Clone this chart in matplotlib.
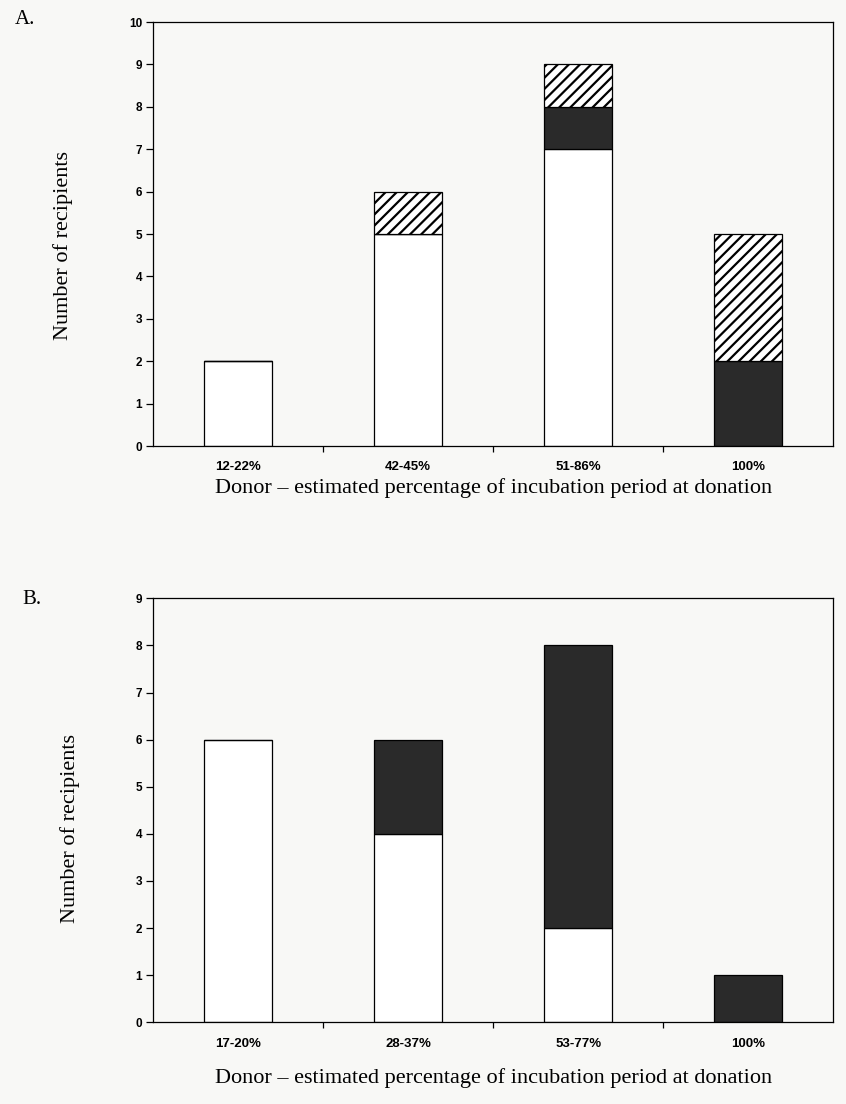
import numpy as np
import matplotlib.pyplot as plt
from matplotlib.ticker import FixedLocator

# ====== data ======
cats_a = ["12-22%", "42-45%", "51-86%", "100%"]
white_a = [2, 5, 7, 0]
dark_a = [0, 0, 1, 2]
hatch_a = [0, 1, 1, 3]

cats_b = ["17-20%", "28-37%", "53-77%", "100%"]
white_b = [6, 4, 2, 0]
dark_b = [0, 2, 6, 1]

xlabel = "Donor \u2013 estimated percentage of incubation period at donation"
ylabel = "Number of recipients"

plt.rcParams["hatch.linewidth"] = 1.6

fig = plt.figure(figsize=(8.46, 11.04), dpi=100)
fig.patch.set_facecolor("#f8f8f6")

serif = ["Liberation Serif", "DejaVu Serif"]
sans = ["Liberation Sans", "DejaVu Sans"]


def draw_panel(ax, cats, white, dark, hatch, ymax, ylab_xy, xlab_y):
    x = np.arange(len(cats))
    w = 0.4
    ax.bar(x, white, width=w, color="white", edgecolor="black", linewidth=0.9)
    ax.bar(x, dark, width=w, bottom=white, color="#2a2a2a",
           edgecolor="black", linewidth=0.9)
    if hatch is not None:
        base = np.array(white) + np.array(dark)
        ax.bar(x, hatch, width=w, bottom=base, color="white",
               edgecolor="black", hatch="///", linewidth=0.9)
    ax.set_xlim(-0.5, len(cats) - 0.5)
    ax.set_ylim(0, ymax)
    ax.set_yticks(range(ymax + 1))
    ax.set_xticks(x)
    ax.set_xticklabels(cats, fontfamily=sans, fontweight="bold", fontsize=9.5)
    ax.tick_params(axis="x", which="major", length=0, pad=11)
    ax.xaxis.set_minor_locator(FixedLocator(x[:-1] + 0.5))
    ax.tick_params(axis="x", which="minor", length=4, width=0.9, direction="out")
    ax.tick_params(axis="y", length=5, width=0.9, direction="out",
                   labelsize=8.5, pad=3)
    for lab in ax.get_yticklabels():
        lab.set_fontfamily(sans)
        lab.set_fontweight("bold")
    for s in ax.spines.values():
        s.set_linewidth(0.9)
    ax.set_facecolor("none")
    ax.set_xlabel(xlabel, fontfamily=serif, fontsize=16)
    ax.xaxis.set_label_coords(0.5, xlab_y)
    ax.set_ylabel(ylabel, fontfamily=serif, fontsize=16)
    ax.yaxis.set_label_coords(*ylab_xy)


ax_a = fig.add_axes([0.181, 0.596, 0.804, 0.384])
draw_panel(ax_a, cats_a, white_a, dark_a, hatch_a, 10, (-0.118, 0.474), -0.075)

ax_b = fig.add_axes([0.181, 0.074, 0.804, 0.384])
draw_panel(ax_b, cats_b, white_b, dark_b, None, 9, (-0.107, 0.458), -0.108)

fig.text(0.017, 0.991, "A.", fontfamily=serif, fontsize=15, va="top")
fig.text(0.026, 0.466, "B.", fontfamily=serif, fontsize=15, va="top")

fig.savefig("out.png", dpi=100, facecolor=fig.get_facecolor())
